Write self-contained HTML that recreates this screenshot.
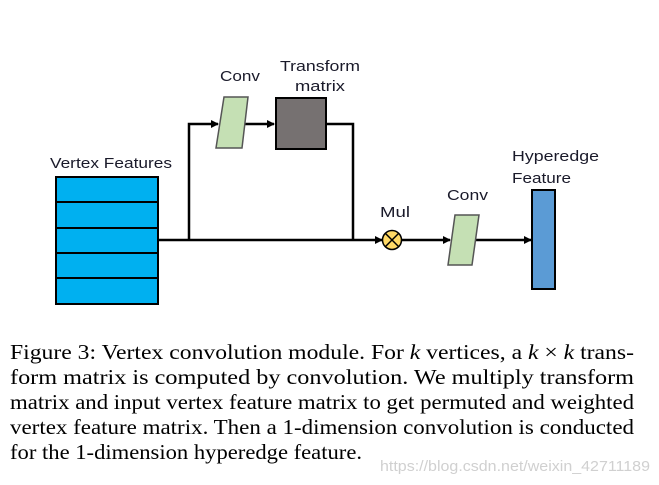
<!DOCTYPE html>
<html><head><meta charset="utf-8"><style>
html,body{margin:0;padding:0;background:#fff;}
svg{display:block;}
</style></head><body>
<svg width="659" height="485" viewBox="0 0 659 485" xmlns="http://www.w3.org/2000/svg">
<defs><marker id="a" markerWidth="8" markerHeight="8" refX="7" refY="4" orient="auto" markerUnits="userSpaceOnUse"><path d="M0,0 L8,4 L0,8 z" fill="#000"/></marker></defs>
<g font-family="'Liberation Sans',sans-serif" font-size="15" fill="#1a1a2a">
<text x="50" y="168" textLength="122" lengthAdjust="spacingAndGlyphs">Vertex Features</text>
<text x="220" y="81" textLength="40" lengthAdjust="spacingAndGlyphs">Conv</text>
<text x="280" y="71" textLength="80" lengthAdjust="spacingAndGlyphs">Transform</text>
<text x="295" y="91" textLength="50" lengthAdjust="spacingAndGlyphs">matrix</text>
<text x="380" y="217" textLength="30" lengthAdjust="spacingAndGlyphs">Mul</text>
<text x="447" y="200" textLength="41" lengthAdjust="spacingAndGlyphs">Conv</text>
<text x="512" y="161" textLength="87" lengthAdjust="spacingAndGlyphs">Hyperedge</text>
<text x="512" y="183" textLength="59" lengthAdjust="spacingAndGlyphs">Feature</text>
</g>
<rect x="56" y="177" width="102" height="127" fill="#00b0f0" stroke="#000" stroke-width="2"/>
<g stroke="#000" stroke-width="2"><line x1="56" y1="202" x2="158" y2="202"/><line x1="56" y1="228" x2="158" y2="228"/><line x1="56" y1="253" x2="158" y2="253"/><line x1="56" y1="278" x2="158" y2="278"/></g>
<g stroke="#000" stroke-width="2.5" fill="none">
<polyline points="158,240 382,240" marker-end="url(#a)"/>
<polyline points="189,240 189,124 218,124" marker-end="url(#a)"/>
<polyline points="245,124 274,124" marker-end="url(#a)"/>
<polyline points="326,124 353,124 353,240"/>
<polyline points="402,240 450,240" marker-end="url(#a)"/>
<polyline points="476,240 531,240" marker-end="url(#a)"/>
</g>
<polygon points="224,97 248,97 242,148 216,148" fill="#c5e0b4" stroke="#555" stroke-width="1.5"/>
<rect x="276" y="98" width="50" height="51" fill="#767171" stroke="#000" stroke-width="2"/>
<circle cx="392" cy="240" r="9.5" fill="#ffd966" stroke="#000" stroke-width="1.5"/>
<g stroke="#000" stroke-width="1.5"><line x1="385.5" y1="233.5" x2="398.5" y2="246.5"/><line x1="398.5" y1="233.5" x2="385.5" y2="246.5"/></g>
<polygon points="455,215 479,215 472,265 448,265" fill="#c5e0b4" stroke="#555" stroke-width="1.5"/>
<rect x="532" y="190" width="23" height="99" fill="#5b9bd5" stroke="#000" stroke-width="2"/>
<g font-family="'Liberation Serif',serif" font-size="21" fill="#000">
<text x="10" y="359" textLength="624" lengthAdjust="spacingAndGlyphs">Figure 3: Vertex convolution module. For <tspan font-style="italic">k</tspan> vertices, a <tspan font-style="italic">k</tspan> × <tspan font-style="italic">k</tspan> trans-</text>
<text x="10" y="384" textLength="624" lengthAdjust="spacingAndGlyphs">form  matrix  is  computed  by  convolution.   We  multiply  transform</text>
<text x="10" y="409" textLength="624" lengthAdjust="spacingAndGlyphs">matrix and input vertex feature matrix to get permuted and weighted</text>
<text x="10" y="434" textLength="624" lengthAdjust="spacingAndGlyphs">vertex feature matrix. Then a 1-dimension convolution is conducted</text>
<text x="10" y="459" textLength="352" lengthAdjust="spacingAndGlyphs">for the 1-dimension hyperedge feature.</text>
</g>
<text x="380" y="471" font-family="'Liberation Sans',sans-serif" font-size="15" fill="#d0d0d0" textLength="270" lengthAdjust="spacingAndGlyphs">https://blog.csdn.net/weixin_42711189</text>
</svg>
</body></html>
